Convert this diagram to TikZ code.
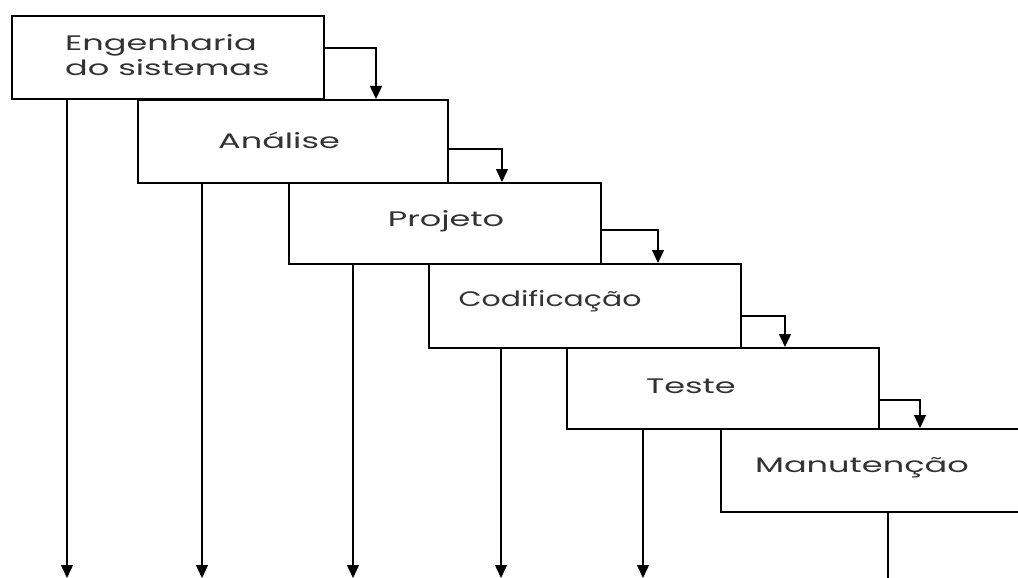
\documentclass[tikz,border=0pt]{standalone}
\usepackage{fontspec}
\setmainfont{Poppins}
\newfontfamily\lblfont[FakeStretch=1.6]{Poppins}
\usetikzlibrary{arrows.meta}
\tikzset{
  box/.style={draw=black, line width=1.8pt, fill=none, rectangle, inner sep=0pt,
    minimum width=312pt, minimum height=83pt, anchor=north west},
  lbl/.style={font=\lblfont\fontsize{21}{25}\selectfont, inner sep=0pt, text=black!80},
  conn/.style={draw=black, line width=1.4pt, -{Triangle[width=12pt,length=13pt]}},
  plain/.style={draw=black, line width=1.4pt}
}
\begin{document}
\begin{tikzpicture}[x=1pt,y=-1pt]
\useasboundingbox (0,0) rectangle (1018,578);
\clip (0,0) rectangle (1018,578);
\fill[white] (0,0) rectangle (1018,578);
% boxes
\node[box] (b1) at (11,15) {};
\node[box, minimum width=310pt] (b2) at (137,99) {};
\node[box, minimum width=312pt, minimum height=81pt] (b3) at (288,182) {};
\node[box, minimum height=84pt] (b4) at (428,263) {};
\node[box, minimum height=81pt] (b5) at (566,347) {};
\node[box, minimum width=340pt] (b6) at (720,428) {};
% labels
\node[lbl, anchor=west] (t1) at (65,58) {\scalebox{1.0}[1]{\begin{tabular}{@{}l@{}}Engenharia\\do sistemas\end{tabular}}};
\node[lbl] (t2) at (279,140) {Análise};
\node[lbl] (t3) at (446,221) {Projeto};
\node[lbl] (t4) at (550,301) {\scalebox{0.89}[1]{Codificação}};
\node[lbl] (t5) at (691,386) {Teste};
\node[lbl] (t6) at (862,468) {Manutenção};
% step arrows
\coordinate (k1) at (376,48);
\coordinate (k2) at (502,149);
\coordinate (k3) at (658,230);
\coordinate (k4) at (785,316);
\coordinate (k5) at (920,400);
\draw[conn] (k1 -| b1.east) -| (k1 |- b2.north);
\draw[conn] (k2 -| b2.east) -| (k2 |- b3.north);
\draw[conn] (k3 -| b3.east) -| (k3 |- b4.north);
\draw[conn] (k4 -| b4.east) -| (k4 |- b5.north);
\draw[conn] (k5 -| b5.east) -| (k5 |- b6.north);
% downward arrows
\coordinate (d1) at (67,578);
\coordinate (d2) at (202,578);
\coordinate (d3) at (353,578);
\coordinate (d4) at (501,578);
\coordinate (d5) at (643,578);
\coordinate (d6) at (888,578);
\draw[conn] (d1 |- b1.south) -- (d1);
\draw[conn] (d2 |- b2.south) -- (d2);
\draw[conn] (d3 |- b3.south) -- (d3);
\draw[conn] (d4 |- b4.south) -- (d4);
\draw[conn] (d5 |- b5.south) -- (d5);
\draw[plain] (d6 |- b6.south) -- (d6);
\end{tikzpicture}
\end{document}
